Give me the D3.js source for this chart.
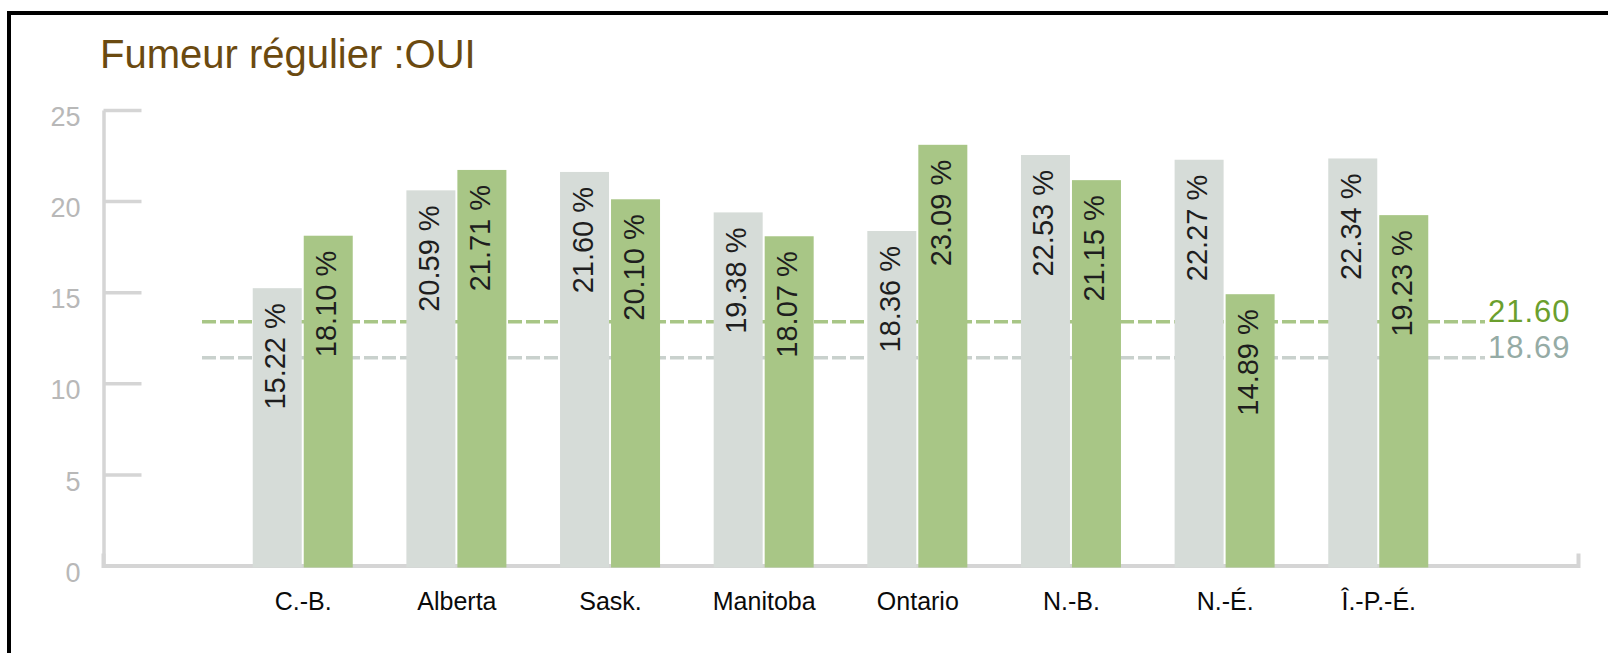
<!DOCTYPE html>
<html>
<head>
<meta charset="utf-8">
<script src="https://cdn.jsdelivr.net/npm/d3@7"></script>
<style>
body { margin: 0; background: #fff; }
</style>
</head>
<body>
<script>
/*
Data
*/
var categories = ["C.-B.", "Alberta", "Sask.", "Manitoba", "Ontario", "N.-B.", "N.-É.", "Î.-P.-É."];
var seriesGray = [15.22, 20.59, 21.60, 19.38, 18.36, 22.53, 22.27, 22.34];
var seriesGreen = [18.10, 21.71, 20.10, 18.07, 23.09, 21.15, 14.89, 19.23];
var yTicks = [0, 5, 10, 15, 20, 25];
// reference lines: level as drawn on the axis, and the label printed next to it
var refLevels = [13.38, 11.4];
var refLabels = ["21.60", "18.69"];

/*
Svg Width and Height
*/
var width = 1608,
    height = 653;

var grayColor = "#d6dcd8",
    greenColor = "#a8c686",
    axisColor = "#d5d5d5",
    font = "'Liberation Sans', Arial, sans-serif";

var svg = d3.select("body").append("svg")
    .attr("width", width)
    .attr("height", height)
	.style("display", "block");

// frame (only top and left edges are visible)
svg.append("path")
	.attr("d", "M9," + height + "V13H" + width)
	.attr("fill", "none")
	.attr("stroke", "#000")
	.attr("stroke-width", 4);

svg.append("text")
	.attr("x", 100)
	.attr("y", 68)
	.attr("font-family", font)
	.attr("font-size", 40)
	.attr("fill", "#6b4a10")
	.text("Fumeur régulier :OUI");

var x = d3.scalePoint()
    .domain(categories)
    .range([103, 1578])
    .padding(1.3);

var y = d3.scaleLinear()
    .domain([0, 25])
    .range([565.5, 110]);

// dashed reference lines, behind bars
var refColors = ["#a8c686", "#c9d1cd"];
var refText = ["#6b9f2e", "#95aba5"];

svg.append("g")
	.selectAll("line")
	.data(refLevels)
	.enter().append("line")
	.attr("x1", 202)
	.attr("x2", 1485)
	.attr("y1", function(d) { return y(d); })
	.attr("y2", function(d) { return y(d); })
	.attr("stroke", function(d, i) { return refColors[i]; })
	.attr("stroke-width", 3.5)
	.attr("stroke-dasharray", "14,4");

svg.append("g")
	.selectAll("text")
	.data(refLevels)
	.enter().append("text")
	.attr("x", 1488)
	.attr("y", function(d) { return y(d) + 0.5; })
	.attr("font-family", font)
	.attr("font-size", 31)
	.attr("letter-spacing", 1)
	.attr("fill", function(d, i) { return refText[i]; })
	.text(function(d, i) { return refLabels[i]; });

// y axis
var yAxis = d3.axisLeft(y)
	.tickValues(yTicks)
	.tickSizeInner(-38)
	.tickSizeOuter(0)
	.tickPadding(23);

var gy = svg.append("g")
	.attr("transform", "translate(103.5,0)")
	.call(yAxis);

gy.selectAll("path, line")
	.attr("stroke", axisColor)
	.attr("stroke-width", 3.5);
gy.selectAll("text")
	.attr("fill", "#b8b8b8")
	.attr("font-family", font)
	.attr("font-size", 27)
	.attr("dy", "0.58em");

// x axis
var xAxis = d3.axisBottom(x)
	.tickSizeInner(0)
	.tickSizeOuter(-12)
	.tickPadding(27);

var gx = svg.append("g")
	.attr("transform", "translate(0," + y(0) + ")")
	.call(xAxis);

gx.select(".domain")
	.attr("stroke", axisColor)
	.attr("stroke-width", 4);
gx.selectAll("text")
	.attr("fill", "#0a0a0a")
	.attr("font-family", font)
	.attr("font-size", 25);

// bars
var barW = 49;

var groups = svg.append("g")
	.selectAll("g")
	.data(categories)
	.enter().append("g");

groups.append("rect")
	.attr("x", function(d) { return x(d) - barW - 1; })
	.attr("y", function(d, i) { return y(seriesGray[i]); })
	.attr("width", barW)
	.attr("height", function(d, i) { return y(0) - y(seriesGray[i]) + 2; })
	.attr("fill", grayColor);

groups.append("rect")
	.attr("x", function(d) { return x(d) + 1; })
	.attr("y", function(d, i) { return y(seriesGreen[i]); })
	.attr("width", barW)
	.attr("height", function(d, i) { return y(0) - y(seriesGreen[i]) + 2; })
	.attr("fill", greenColor);

// value labels, rotated
var fmt = d3.format(".2f");

function addLabel(values, dx) {
	groups.append("text")
		.attr("transform", function(d, i) {
			var cx = x(d) + dx;
			return "translate(" + (cx + 8) + "," + (y(values[i]) + 15) + ") rotate(-90)";
		})
		.attr("text-anchor", "end")
		.attr("font-family", font)
		.attr("font-size", 29)
		.attr("fill", "#1e1e1e")
		.text(function(d, i) { return fmt(values[i]) + " %"; });
}

addLabel(seriesGray, -25.5);
addLabel(seriesGreen, 25.5);
</script>
</body>
</html>
